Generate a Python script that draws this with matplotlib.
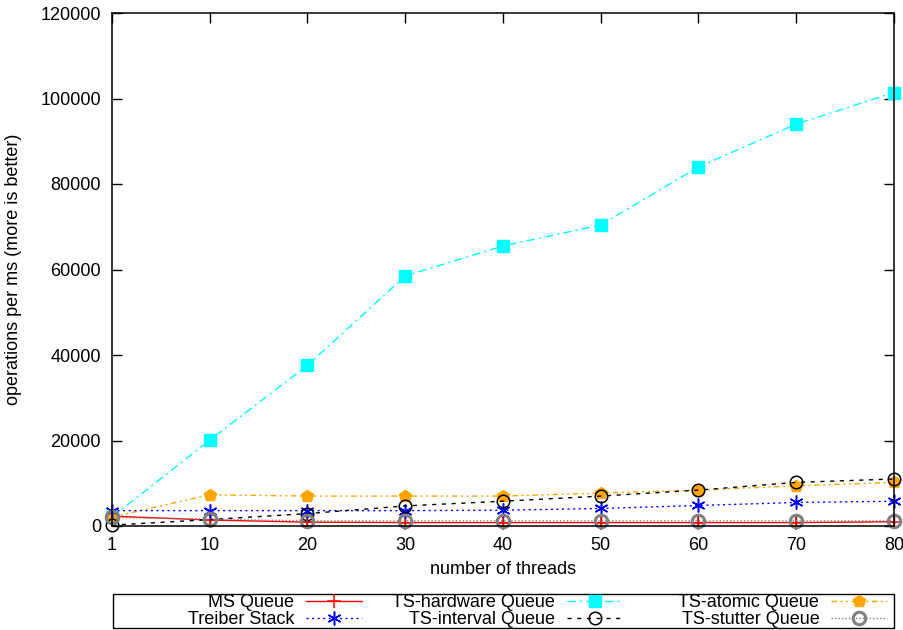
import matplotlib
matplotlib.use("Agg")
import matplotlib.pyplot as plt
from matplotlib.patches import Rectangle
import numpy as np

threads = ["1", "10", "20", "30", "40", "50", "60", "70", "80"]

ms_queue = [2300, 1400, 900, 800, 800, 800, 800, 800, 1000]
treiber_stack = [3600, 3600, 3600, 3600, 3700, 4100, 4800, 5500, 5800]
ts_hardware = [2100, 20100, 37600, 58500, 65500, 70400, 84000, 94000, 101400]
ts_interval = [200, 1500, 2900, 4700, 5800, 7000, 8400, 10200, 11000]
ts_atomic = [2100, 7300, 7000, 7000, 7000, 7700, 8400, 9400, 10200]
ts_stutter = [2000, 1600, 1200, 1200, 1200, 1200, 1200, 1200, 1200]

plt.rcParams["font.family"] = ["Liberation Sans", "DejaVu Sans"]
plt.rcParams["font.size"] = 13

W, H = 904, 630
fig = plt.figure(figsize=(W / 100, H / 100), dpi=100)
ax = fig.add_axes([112 / W, 1 - 526 / H, 782 / W, 513 / H])

x = np.arange(len(threads))
asterisk = (6, 2, 0)
common = dict(lw=1.0, clip_on=False)

h_ms, = ax.plot(x, ms_queue, color="red", ls="-", marker="+", ms=10, mew=1.1,
                label="MS Queue", **common)
h_hw, = ax.plot(x, ts_hardware, color="cyan", ls=(0, (6, 3, 1.5, 3)), marker="s",
                ms=9, mec="cyan", label="TS-hardware Queue", **common)
h_at, = ax.plot(x, ts_atomic, color="orange", ls=(0, (4, 2.5, 1.5, 2.5, 1.5, 2.5)),
                marker="p", ms=9, mec="orange", label="TS-atomic Queue", **common)
h_tr, = ax.plot(x, treiber_stack, color="blue", ls=(0, (1.5, 2.5)), marker=asterisk,
                ms=10, mew=1.1, label="Treiber Stack", **common)
h_in, = ax.plot(x, ts_interval, color="black", ls=(0, (3, 4)), marker="o", ms=9,
                mfc="none", mec="black", mew=1.1, label="TS-interval Queue", **common)
h_st, = ax.plot(x, ts_stutter, color="grey", ls=(0, (1, 1.5)), marker="o", ms=9,
                mfc="none", mec="grey", mew=2.2, label="TS-stutter Queue", **common)

ax.set_xlim(0, len(threads) - 1)
ax.set_ylim(0, 120000)
ax.set_xticks(x)
ax.set_xticklabels(threads)
ax.set_yticks(np.arange(0, 120001, 20000))
ax.tick_params(direction="in", top=True, right=True, length=7, width=1, pad=8)
for s in ax.spines.values():
    s.set_linewidth(1.1)

ax.set_xlabel("number of threads")
ax.xaxis.set_label_coords(0.5, -0.068)
ax.set_ylabel("operations per ms (more is better)")
ax.yaxis.set_label_coords(-0.115, 0.5)

# key: three right-aligned columns inside one framed box
columns = [([h_ms, h_tr], 362), ([h_hw, h_in], 623), ([h_at, h_st], 887)]
for handles, right in columns:
    fig.legend(handles=handles, loc="center right",
               bbox_to_anchor=(right / W, 1 - 611 / H),
               frameon=False, markerfirst=False, handlelength=3.1,
               handletextpad=0.65, borderpad=0, borderaxespad=0,
               labelspacing=0.0, fontsize=13)
fig.patches.append(Rectangle((113 / W, 1 - 628 / H), 781 / W, 34 / H,
                             transform=fig.transFigure, fill=False,
                             edgecolor="black", lw=1.0))

fig.savefig("out.png", dpi=100)
